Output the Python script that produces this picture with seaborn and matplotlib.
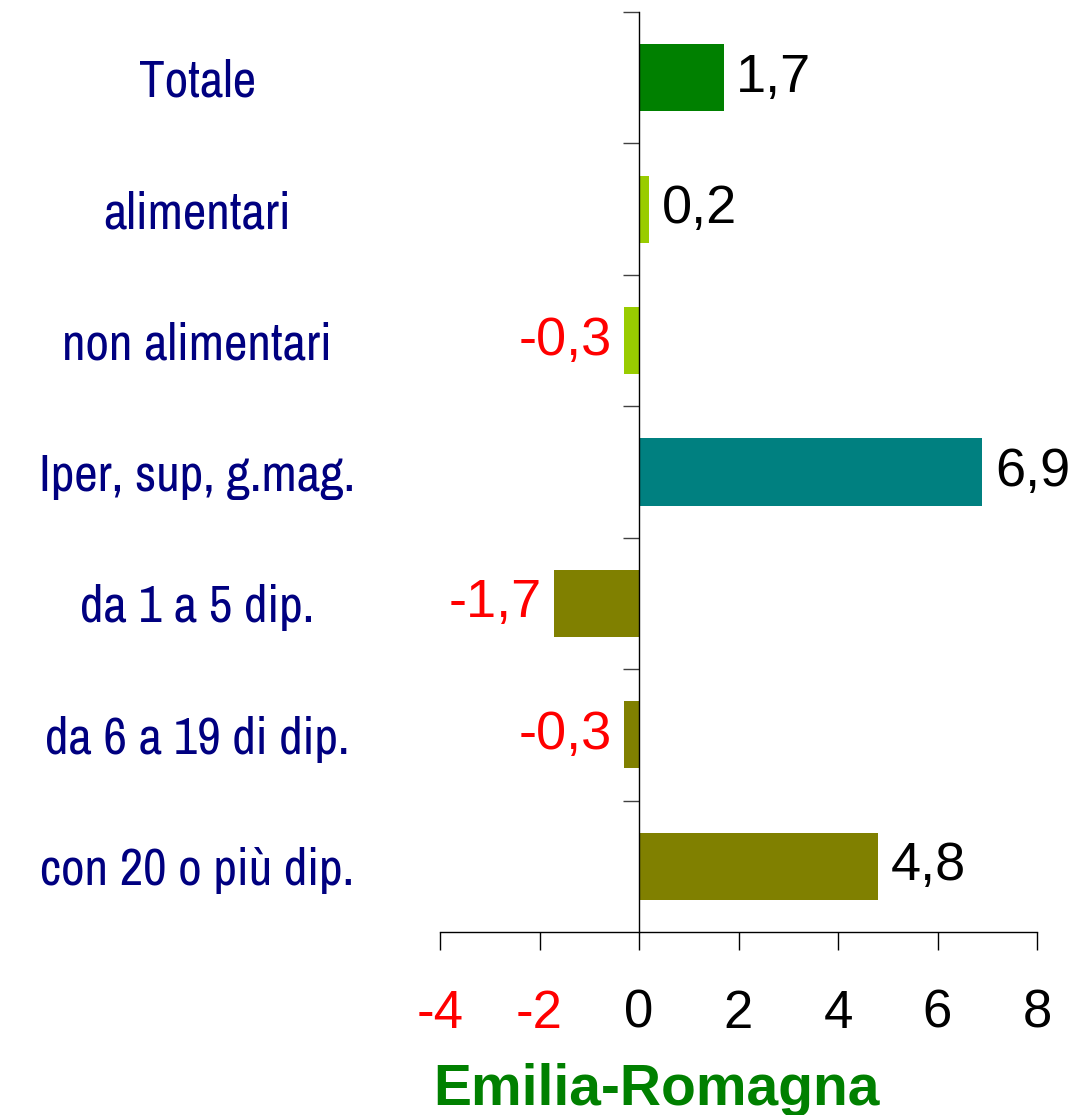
import matplotlib
matplotlib.use("Agg")
import matplotlib.pyplot as plt
import seaborn as sns
import numpy as np

# data
categories = ["Totale", "alimentari", "non alimentari", "Iper, sup, g.mag.",
              "da 1 a 5 dip.", "da 6 a 19 di dip.", "con 20 o più dip."]
values = [1.7, 0.2, -0.3, 6.9, -1.7, -0.3, 4.8]
labels = ["1,7", "0,2", "-0,3", "6,9", "-1,7", "-0,3", "4,8"]
bar_colors = ["#008000", "#99CC00", "#99CC00", "#008080",
              "#808000", "#808000", "#808000"]
x_ticks = [-4, -2, 0, 2, 4, 6, 8]
title = "Emilia-Romagna"

sns.set_style("white")
plt.rcParams['font.family'] = ['Liberation Sans', 'DejaVu Sans']
narrow = ['Archivo Narrow', 'Liberation Sans', 'DejaVu Sans']

fig = plt.figure(figsize=(10.77, 11.15), dpi=100)
ax = fig.add_axes([440 / 1077, 1 - 932 / 1115, (1037 - 440) / 1077, (932 - 12) / 1115])

sns.barplot(x=values, y=categories, hue=categories, palette=bar_colors,
            legend=False, orient="h", width=0.51, saturation=1, ax=ax,
            linewidth=0)

ax.set_xlim(-4, 8)
ax.set_ylim(len(categories) - 0.5, -0.5)

# spines
for s in ["top", "right"]:
    ax.spines[s].set_visible(False)
ax.spines["left"].set_position(("data", 0))
ax.spines["left"].set_color("black")
ax.spines["left"].set_linewidth(1.0)
ax.spines["left"].set_zorder(5)
ax.spines["bottom"].set_color("black")
ax.spines["bottom"].set_linewidth(1.0)

# x ticks
ax.set_xticks(x_ticks)
ax.set_xticklabels([str(t) for t in x_ticks], fontsize=38)
ax.tick_params(axis="x", direction="out", length=13, width=1.0, color="black",
               pad=28, bottom=True)
for t, lab in zip(x_ticks, ax.get_xticklabels()):
    lab.set_color("red" if t < 0 else "black")

# y ticks: boundaries as major ticks, labels on minor ticks
pos = np.arange(len(categories))
ax.set_yticks(np.arange(-0.5, len(categories) - 1, 1.0))
ax.set_yticklabels([])
ax.tick_params(axis="y", which="major", direction="out", length=11.5, width=1.0,
               color="#404040", left=True)
ax.set_yticks(pos, minor=True)
ax.set_yticklabels(categories, minor=True, fontsize=37, color="#000080",
                   family=narrow, ha="center")
ax.tick_params(axis="y", which="minor", length=0, pad=318)
ax.set_ylabel("")
ax.set_xlabel("")

# value labels
for i, (v, lab) in enumerate(zip(values, labels)):
    if v >= 0:
        ax.annotate(lab, (v, i), xytext=(9, 0), textcoords="offset points",
                    ha="left", va="center", fontsize=39, color="black")
    else:
        ax.annotate(lab, (v, i), xytext=(-9, 0), textcoords="offset points",
                    ha="right", va="center", fontsize=39, color="red")

fig.text(656 / 1077, 10 / 1115, title, ha="center", va="baseline",
         fontsize=41, fontweight="bold", color="#008000")

fig.savefig("out.png", dpi=100)
